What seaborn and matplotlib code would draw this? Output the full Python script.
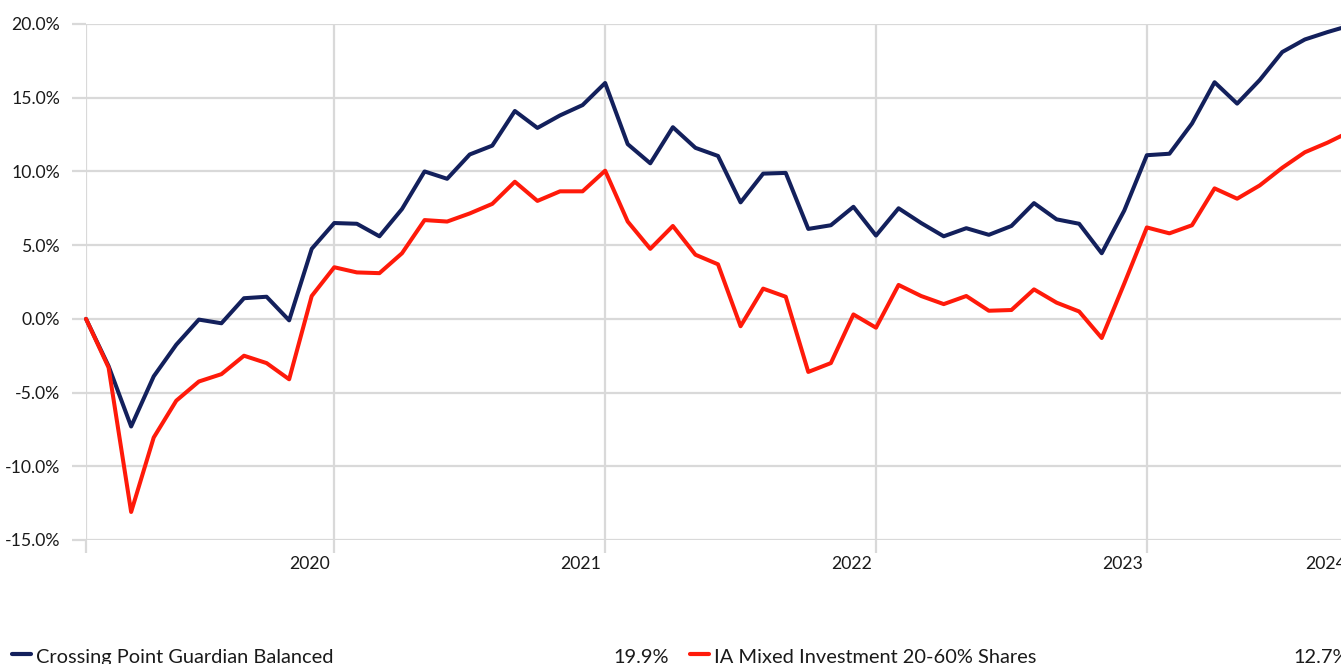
import numpy as np
import pandas as pd
import matplotlib
matplotlib.use("Agg")
import matplotlib.pyplot as plt
import seaborn as sns
from matplotlib.transforms import ScaledTranslation
from matplotlib.lines import Line2D

# ---- data (cumulative performance, %) ----
months = list(range(57))
guardian = [0.0, -3.2, -7.3, -3.9, -1.75, -0.05, -0.3, 1.4, 1.5, -0.1,
            4.75, 6.5, 6.45, 5.6, 7.45, 10.0, 9.5, 11.15, 11.75, 14.1,
            12.95, 13.8, 14.5, 16.0, 11.85, 10.55, 13.0, 11.6, 11.05, 7.9,
            9.85, 9.9, 6.1, 6.35, 7.6, 5.65, 7.5, 6.5, 5.6, 6.15,
            5.7, 6.3, 7.85, 6.75, 6.45, 4.45, 7.35, 11.1, 11.2, 13.25,
            16.05, 14.6, 16.2, 18.1, 18.95, 19.45, 19.9]
ia_mixed = [0.0, -3.3, -13.1, -8.05, -5.55, -4.25, -3.75, -2.5, -3.0, -4.1,
            1.55, 3.5, 3.15, 3.1, 4.45, 6.7, 6.6, 7.15, 7.8, 9.3,
            8.0, 8.65, 8.65, 10.05, 6.6, 4.75, 6.3, 4.35, 3.7, -0.5,
            2.05, 1.5, -3.6, -3.0, 0.3, -0.6, 2.3, 1.55, 1.0, 1.55,
            0.55, 0.6, 2.0, 1.1, 0.5, -1.3, 2.4, 6.2, 5.8, 6.35,
            8.85, 8.15, 9.05, 10.25, 11.3, 11.95, 12.7]
series_names = ["Crossing Point Guardian Balanced", "IA Mixed Investment 20-60% Shares"]
series_colors = ["#13205c", "#ff1a0a"]
year_ticks = [0, 11, 23, 35, 47, 56]
year_labels = ["", "2020", "2021", "2022", "2023", "2024"]
y_ticks = [-15, -10, -5, 0, 5, 10, 15, 20]

# ---- style ----
sns.set_theme(style="white")
plt.rcParams["font.family"] = ["Lato", "DejaVu Sans"]

W, H = 1341, 664
fig = plt.figure(figsize=(W / 100, H / 100), dpi=100)
ax = fig.add_axes([86 / W, 1 - 540 / H, (1350 - 86) / W, (540 - 24) / H])

df = pd.DataFrame({
    "month": months * 2,
    "value": guardian + ia_mixed,
    "series": [series_names[0]] * len(months) + [series_names[1]] * len(months),
})
sns.lineplot(data=df, x="month", y="value", hue="series",
             palette=dict(zip(series_names, series_colors)),
             linewidth=2.9, legend=False, ax=ax, clip_on=False)

ax.set_xlim(0, 56)
ax.set_ylim(-15, 20)
ax.set_xlabel("")
ax.set_ylabel("")
ax.set_axisbelow(True)
grid_col = "#d9d9d9"
ax.grid(True, color=grid_col, linewidth=1.6)
for s in ax.spines.values():
    s.set_visible(False)

ax.set_yticks(y_ticks)
ax.set_yticklabels([f"{v:.1f}%" for v in y_ticks])
ax.set_xticks(year_ticks)
ax.set_xticklabels(year_labels)
ax.tick_params(axis="both", which="major", bottom=True, left=True,
               color=grid_col, width=1.6, labelsize=12.7, labelcolor="#1a1a1a")
ax.tick_params(axis="y", length=10, pad=8.5)
ax.tick_params(axis="x", length=9.5, pad=2)
off = ScaledTranslation(-4 / 100, 0, fig.dpi_scale_trans)
for lab in ax.get_xticklabels():
    lab.set_ha("right")
    lab.set_transform(lab.get_transform() + off)

# ---- legend row ----
base_y = 1 - 663 / H
line_y = 1 - 654 / H
final_vals = [guardian[-1], ia_mixed[-1]]
marker_x = [(12, 31), (690, 709)]
text_x = [36, 714]
val_x = [613, 1293]
for i in range(2):
    fig.add_artist(Line2D([marker_x[i][0] / W, marker_x[i][1] / W], [line_y, line_y],
                          color=series_colors[i], lw=3, transform=fig.transFigure))
    fig.text(text_x[i] / W, base_y, series_names[i], fontsize=14.4,
             color="#1a1a1a", va="baseline", ha="left")
    fig.text(val_x[i] / W, base_y, f"{final_vals[i]:.1f}%", fontsize=14.4,
             color="#1a1a1a", va="baseline", ha="left")

fig.savefig("out.png", dpi=100)
